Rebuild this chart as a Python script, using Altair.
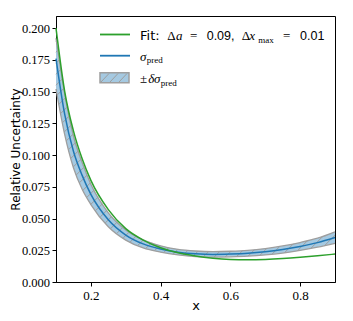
import numpy as np
import pandas as pd
import altair as alt

# ---- data ----
x_vals = [0.10, 0.125, 0.15, 0.175, 0.20, 0.25, 0.30, 0.35, 0.40, 0.45,
          0.50, 0.55, 0.60, 0.65, 0.70, 0.75, 0.80, 0.85, 0.90]
fit_vals = [0.200, 0.150, 0.119, 0.097, 0.080, 0.057, 0.042, 0.033, 0.027, 0.023,
            0.0205, 0.0188, 0.0178, 0.0175, 0.0178, 0.0185, 0.0195, 0.0207, 0.022]
sigma_vals = [0.176, 0.132, 0.103, 0.084, 0.069, 0.049, 0.037, 0.030, 0.026, 0.0235,
              0.0222, 0.0217, 0.0220, 0.0226, 0.0238, 0.0256, 0.0280, 0.0310, 0.0350]
lower_vals = [0.152, 0.116, 0.090, 0.073, 0.061, 0.0435, 0.0330, 0.0268, 0.0235, 0.0213,
              0.0200, 0.0196, 0.0198, 0.0203, 0.0213, 0.0228, 0.0249, 0.0275, 0.0305]
upper_vals = [0.192, 0.148, 0.115, 0.094, 0.077, 0.0545, 0.0410, 0.0332, 0.0285, 0.0257,
              0.0244, 0.0239, 0.0242, 0.0249, 0.0263, 0.0284, 0.0311, 0.0345, 0.0395]
x_ticks = [0.2, 0.4, 0.6, 0.8]
y_ticks = [0.0, 0.025, 0.05, 0.075, 0.1, 0.125, 0.15, 0.175, 0.2]

df = pd.DataFrame({"x": x_vals, "fit": fit_vals, "sigma": sigma_vals,
                   "lo": lower_vals, "hi": upper_vals})

# ---- geometry ----
W, H = 279, 266
XMIN, XMAX = 0.1, 0.9
YMAX = 0.2095

SERIF = "Liberation Serif"
SANS = "DejaVu Sans"
NSANS = "Liberation Sans"

# hatch lines ("/") clipped to the band, derived from band arrays
dx = np.linspace(XMIN, XMAX, 1601)
px = (dx - XMIN) / (XMAX - XMIN) * W
py_lo = (1 - np.interp(dx, x_vals, lower_vals) / YMAX) * H
py_hi = (1 - np.interp(dx, x_vals, upper_vals) / YMAX) * H
g_lo = px + py_lo
g_hi = px + py_hi
spacing = 11.0
rows = []
c = g_hi[0] + 3
while c < g_lo[-1]:
    if c < g_lo[0]:
        lx, ly = 0.0, c
    else:
        lx = np.interp(c, g_lo, px)
        ly = c - lx
    if c > g_hi[-1]:
        ux, uy = float(W), c - W
    else:
        ux = np.interp(c, g_hi, px)
        uy = c - ux
    rows.append({
        "x": XMIN + lx / W * (XMAX - XMIN), "y": (1 - ly / H) * YMAX,
        "x2": XMIN + ux / W * (XMAX - XMIN), "y2": (1 - uy / H) * YMAX,
    })
    c += spacing
hatch = pd.DataFrame(rows)

xs = alt.Scale(domain=[XMIN, XMAX], nice=False, zero=False)
ys = alt.Scale(domain=[0, YMAX], nice=False, zero=False)
xaxis = alt.Axis(values=x_ticks, format=".1f", labelFlush=False,
                 titleX=W / 2, titleY=27, titleBaseline="alphabetic",
                 labelFontSize=13, labelPadding=3)
yaxis = alt.Axis(values=y_ticks, format=".3f",
                 titleX=-37, titleY=H / 2, titleBaseline="alphabetic",
                 titleFontSize=12, labelFontSize=12.5, labelPadding=2.5)
XT = "x"
YT = "Relative Uncertainty"

GRAY = "#9e9e9e"
BAND = "#a5c9e1"
BLUE = "#1f77b4"
GREEN = "#2ca02c"

base = alt.Chart(df)
band = base.mark_area(color=BAND, interpolate="monotone", opacity=1).encode(
    x=alt.X("x:Q", scale=xs, axis=xaxis, title=XT),
    y=alt.Y("lo:Q", scale=ys, axis=yaxis, title=YT),
    y2="hi:Q",
)
hatch_layer = alt.Chart(hatch).mark_rule(color=GRAY, strokeWidth=1).encode(
    x=alt.X("x:Q", scale=xs, axis=xaxis, title=XT),
    y=alt.Y("y:Q", scale=ys, axis=yaxis, title=YT),
    x2="x2:Q", y2="y2:Q",
)
edge_lo = base.mark_line(color=GRAY, strokeWidth=1.3, interpolate="monotone").encode(
    x=alt.X("x:Q", scale=xs, axis=xaxis, title=XT),
    y=alt.Y("lo:Q", scale=ys, axis=yaxis, title=YT),
)
edge_hi = base.mark_line(color=GRAY, strokeWidth=1.3, interpolate="monotone").encode(
    x=alt.X("x:Q", scale=xs, axis=xaxis, title=XT),
    y=alt.Y("hi:Q", scale=ys, axis=yaxis, title=YT),
)
sigma_line = base.mark_line(color=BLUE, strokeWidth=1.5, interpolate="monotone").encode(
    x=alt.X("x:Q", scale=xs, axis=xaxis, title=XT),
    y=alt.Y("sigma:Q", scale=ys, axis=yaxis, title=YT),
)
fit_line = base.mark_line(color=GREEN, strokeWidth=1.5, interpolate="monotone").encode(
    x=alt.X("x:Q", scale=xs, axis=xaxis, title=XT),
    y=alt.Y("fit:Q", scale=ys, axis=yaxis, title=YT),
)

# ---- manual legend ----
one = pd.DataFrame({"k": [0]})


def txt(s, x, y, size=13, font=SERIF, style="normal"):
    return alt.Chart(one).mark_text(
        text=s, align="left", baseline="alphabetic", font=font,
        fontSize=size, fontStyle=style, color="black",
    ).encode(x=alt.value(x), y=alt.value(y))


def hline(x1, x2, y, color, w):
    return alt.Chart(one).mark_rule(color=color, strokeWidth=w).encode(
        x=alt.value(x1), x2=alt.value(x2), y=alt.value(y))


leg = [
    hline(44, 74, 18.5, GREEN, 1.8),
    hline(44, 74, 39.7, BLUE, 1.8),
    alt.Chart(one).mark_rect(fill=BAND, stroke=GRAY, strokeWidth=1.5).encode(
        x=alt.value(44), x2=alt.value(73), y=alt.value(56.7), y2=alt.value(66.7)),
]
for hx in [45, 54, 63]:
    leg.append(alt.Chart(one).mark_rule(color=GRAY, strokeWidth=1).encode(
        x=alt.value(hx), x2=alt.value(hx + 8), y=alt.value(66), y2=alt.value(57.5)))
r1 = 24.3
leg += [
    txt("Fit:", 84, r1, font=SANS),
    txt("Δ", 111.3, r1),
    txt("a", 120, r1, style="italic"),
    txt("=", 134, r1),
    txt("0.09,", 150.7, r1, font=NSANS, size=12.5),
    txt("Δ", 185.7, r1),
    txt("x", 193.3, r1, style="italic"),
    txt("max", 202.3, r1 + 2.4, size=9),
    txt("=", 227, r1),
    txt("0.01", 244, r1, font=NSANS, size=12.5),
    txt("σ", 84, 44.7, style="italic"),
    txt("pred", 90.7, 47, size=9),
    txt("±", 84, 67.3),
    txt("δ", 92.3, 67.3, style="italic"),
    txt("σ", 98, 67.3, style="italic"),
    txt("pred", 104.7, 69.7, size=9),
]

chart = alt.layer(band, hatch_layer, edge_lo, edge_hi, sigma_line, fit_line, *leg).properties(
    width=W, height=H,
    autosize=alt.AutoSizeParams(type="none"),
    padding={"left": 48, "top": 8, "right": 10, "bottom": 31},
).configure_view(
    stroke="black", strokeWidth=1
).configure_axis(
    grid=False, domainColor="black", tickColor="black", labelColor="black",
    titleColor="black", labelFont=SERIF,
    titleFont=SANS, titleFontSize=13, titleFontWeight="normal",
    tickSize=4, domainWidth=1, tickWidth=1,
)

chart.save("out.html", embed_options={"renderer": "svg", "actions": False})
